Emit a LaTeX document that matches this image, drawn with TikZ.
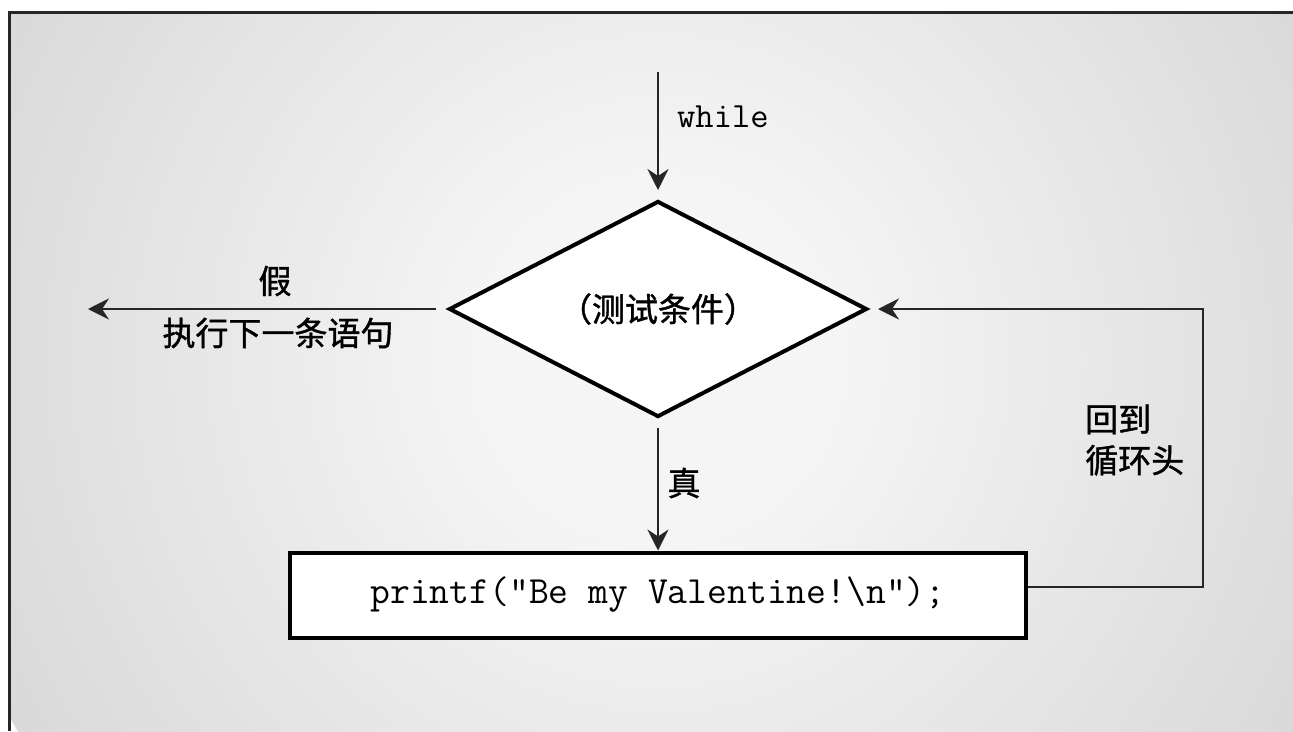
\documentclass[tikz,border=0pt]{standalone}
\usepackage{fontspec}
\newfontfamily\cjk[FakeBold=1.2]{Noto Sans CJK SC}
\usetikzlibrary{arrows.meta,shapes.geometric}
\definecolor{bgin}{HTML}{F5F5F5}
\definecolor{bgout}{HTML}{B4B4B4}
\definecolor{linec}{HTML}{262626}
\pgfdeclareradialshading{bgrad}{\pgfpoint{0bp}{0bp}}{color(0bp)=(bgin); color(6bp)=(bgin); color(50bp)=(bgout)}
\begin{document}
\begin{tikzpicture}[x=1pt,y=-1pt,
  conn/.style={line width=2.2pt, draw=linec, -{Stealth[length=21pt,width=21pt,inset=7pt]}},
  dia/.style={shape=diamond, draw=black, line width=4pt, fill=white,
    minimum width=418pt, minimum height=216pt, inner sep=0pt, aspect=1.94,
    font=\cjk\fontsize{33}{40}\selectfont},
  stmtbox/.style={shape=rectangle, draw=black, line width=4pt, fill=white,
    minimum width=736pt, minimum height=85pt, inner sep=0pt,
    font=\ttfamily\fontsize{38.5}{44}\selectfont},
  cjklbl/.style={inner sep=0pt, font=\cjk\fontsize{33}{41}\selectfont},
  codelbl/.style={inner sep=0pt, font=\ttfamily\fontsize{35.5}{40}\selectfont}]
\useasboundingbox (0,0) rectangle (1293,731);
\fill[white] (0,0) rectangle (1293,731);
\begin{scope}
  \clip (9,12) rectangle (1293,731);
  \shade[shading=bgrad] (658,360) circle (740);
\end{scope}
\draw[line width=3pt, draw=linec] (9,731) -- (9,12) -- (1293,12);

\node[dia] (cond) at (658,309) {（测试条件）};
\node[stmtbox] (stmt) at (658,595) {printf("Be my Valentine!\textbackslash n");};

\coordinate (topstart) at (658,72);
\coordinate (leftend) at (88,309);
\coordinate (loopc) at (1203,309);

\draw[conn, shorten >=9pt] (topstart) -- (cond.north);
\draw[conn, line width=2.6pt, shorten <=11pt] (cond.west) -- (leftend);
\draw[conn, shorten <=9pt] (cond.south) -- (stmt.north);
\draw[conn, shorten >=9pt] ([yshift=8pt]stmt.east) -| (loopc) -- (cond.east);

\node[codelbl, anchor=west] (whl) at (677,117) {while};
\node[cjklbl] (fls) at (275,281) {假};
\node[cjklbl] (nxt) at (278,333) {执行下一条语句};
\node[cjklbl] (tru) at (684,483) {真};
\node[cjklbl, align=left, anchor=west] (back) at (1085,440) {回到\\循环头};
\end{tikzpicture}
\end{document}
